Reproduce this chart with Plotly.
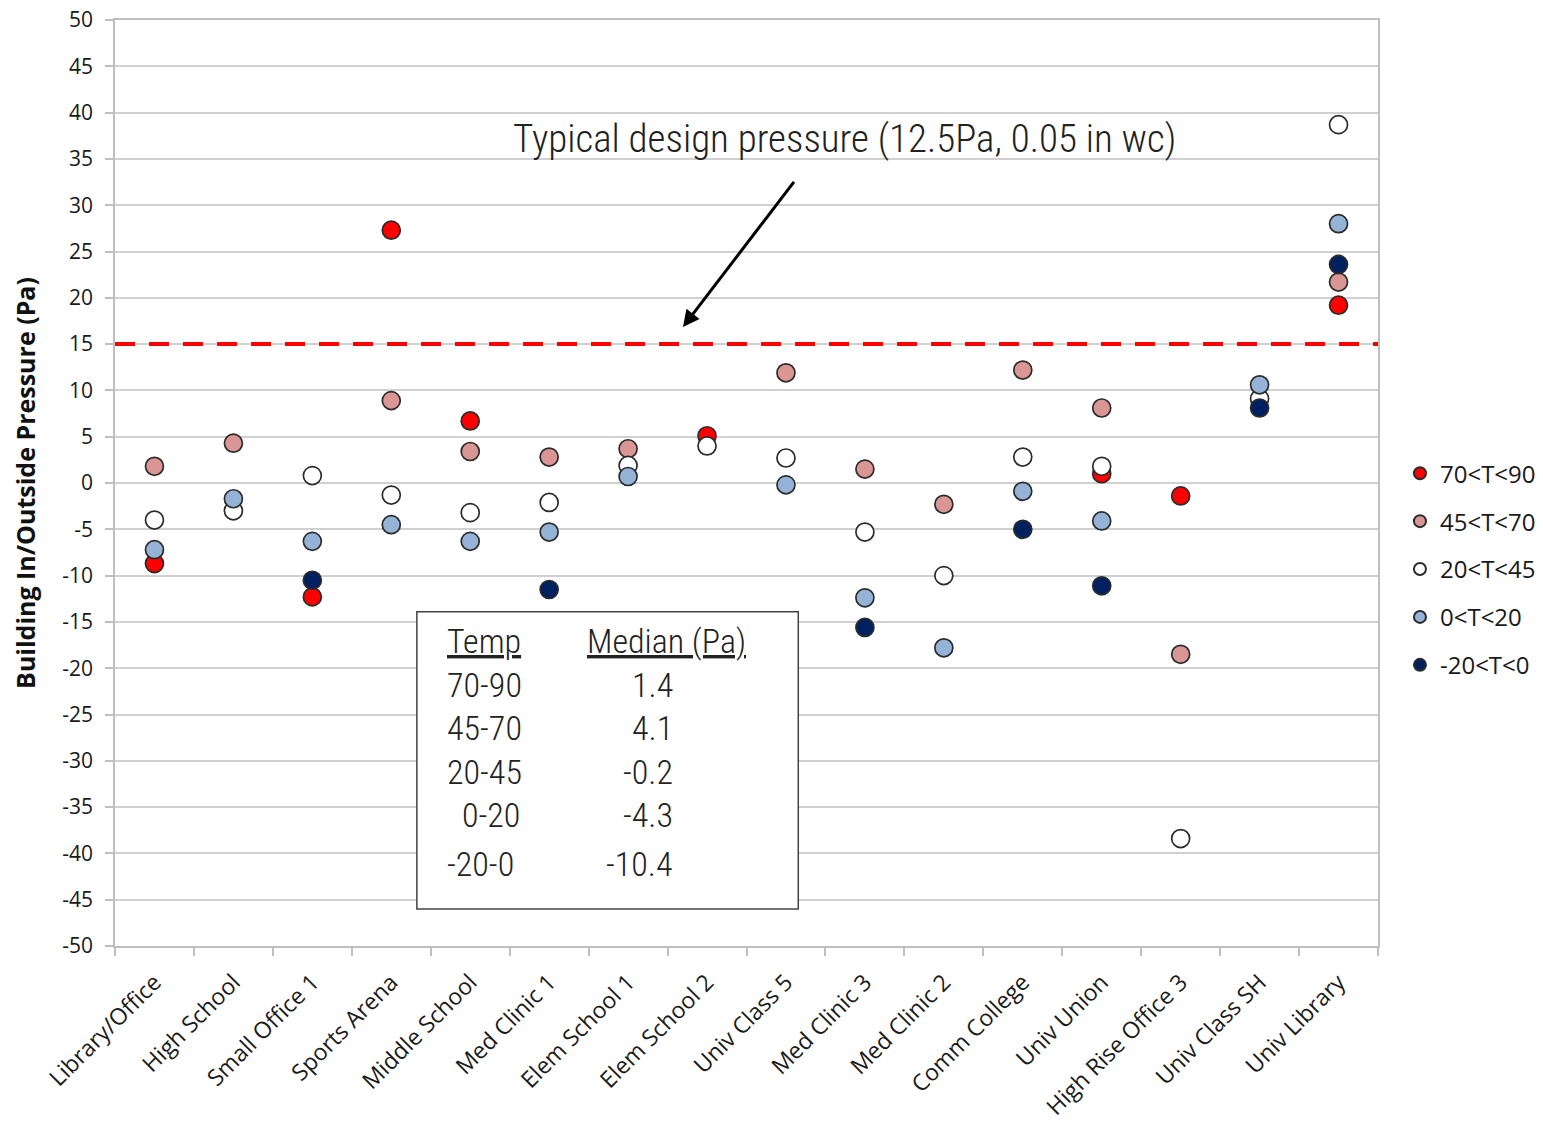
import plotly.graph_objects as go

# Buildings (x categories)
buildings = [
    "Library/Office", "High School", "Small Office 1", "Sports Arena",
    "Middle School", "Med Clinic 1", "Elem School 1", "Elem School 2",
    "Univ Class 5", "Med Clinic 3", "Med Clinic 2", "Comm College",
    "Univ Union", "High Rise Office 3", "Univ Class SH", "Univ Library",
]

# Building in/outside pressure (Pa) by outdoor temperature bin
p_70_90 = [-8.7, None, -12.3, 27.3, 6.7, None, None, 5.1,
           None, None, None, None, 1.0, -1.4, None, 19.2]
p_45_70 = [1.8, 4.3, None, 8.9, 3.4, 2.8, 3.7, None,
           11.9, 1.5, -2.3, 12.2, 8.1, -18.5, None, 21.7]
p_20_45 = [-4.0, -3.0, 0.8, -1.3, -3.2, -2.1, 1.9, 4.0,
           2.7, -5.3, -10.0, 2.8, 1.8, -38.4, 9.1, 38.7]
p_0_20 = [-7.2, -1.7, -6.3, -4.5, -6.3, -5.3, 0.7, None,
          -0.2, -12.4, -17.8, -0.9, -4.1, None, 10.6, 28.0]
p_m20_0 = [None, None, -10.5, None, None, -11.5, None, None,
           None, -15.6, None, -5.0, -11.1, None, 8.1, 23.6]

series_names = ["70<T<90", "45<T<70", "20<T<45", "0<T<20", "-20<T<0"]
series_values = [p_70_90, p_45_70, p_20_45, p_0_20, p_m20_0]
series_colors = ["#FF0000", "#DA9694", "#FFFFFF", "#95B3D7", "#002060"]

design_pressure = 15

# Y tick values and labels (plain hyphen for negatives)
y_ticks = list(range(-50, 55, 5))
y_tick_labels = [str(v) for v in y_ticks]

# Summary table of medians
table_temps = ["70-90", "45-70", "20-45", "0-20", "-20-0"]
table_medians = ["1.4", "4.1", "-0.2", "-4.3", "-10.4"]

TICK_FONT = "Open Sans, Lato, sans-serif"
NARROW_FONT = "Liberation Sans Narrow, Roboto Condensed, Arial Narrow, Roboto, sans-serif"
TEXT_COLOR = "#1a1a1a"

fig = go.Figure()
for name, vals, col in zip(series_names, series_values, series_colors):
    fig.add_trace(go.Scatter(
        x=buildings, y=vals, mode="markers", name=name,
        legendgroup=name,
        marker=dict(size=18, color=col, line=dict(color="#2b2b2b", width=1.7)),
    ))

# Design pressure reference line
fig.add_shape(type="line", xref="paper", yref="y", x0=0, x1=1,
              y0=design_pressure, y1=design_pressure,
              line=dict(color="#FF0000", width=4, dash="20px,14px"), layer="above")

# White backing behind the callout text
fig.add_shape(type="rect", xref="paper", yref="y", x0=0.2945, x1=0.8765,
              y0=32.8, y1=42.5, fillcolor="white", line=dict(width=0), layer="below")
fig.add_annotation(xref="paper", yref="y", x=0.5775, y=37.1, showarrow=False,
                   text="Typical design pressure (12.5Pa, 0.05 in wc)",
                   font=dict(family=NARROW_FONT, size=39, color="#222222", weight=300))
fig.add_annotation(xref="paper", yref="y", x=0.4497, y=16.85, text=" ",
                   showarrow=True, arrowhead=2, arrowsize=1.1, arrowwidth=3,
                   arrowcolor="black", ax=114, ay=-149)

# Median table box
fig.add_shape(type="rect", xref="paper", yref="y", x0=0.239, x1=0.541,
              y0=-46.0, y1=-13.9, fillcolor="white",
              line=dict(color="#444444", width=1.5), layer="above")
TABLE_FONT = dict(family=NARROW_FONT, size=34, color="#222222", weight=300)
fig.add_annotation(xref="paper", yref="y", x=0.261, y=-17.1, xanchor="left",
                   showarrow=False, text="<u>Temp</u>", font=TABLE_FONT)
fig.add_annotation(xref="paper", yref="y", x=0.372, y=-17.1, xanchor="left",
                   showarrow=False, text="<u>Median (Pa)</u>", font=TABLE_FONT)
row_y = [-21.8, -26.5, -31.2, -35.9, -41.1]
temp_x = [0.261, 0.261, 0.261, 0.273, 0.261]
for t, m, yy, tx in zip(table_temps, table_medians, row_y, temp_x):
    fig.add_annotation(xref="paper", yref="y", x=tx, y=yy, xanchor="left",
                       showarrow=False, text=t, font=TABLE_FONT)
    fig.add_annotation(xref="paper", yref="y", x=0.443, y=yy, xanchor="right",
                       showarrow=False, text=m, font=TABLE_FONT)

fig.update_layout(
    width=1543, height=1125,
    margin=dict(l=115, r=165, t=20, b=179),
    plot_bgcolor="white", paper_bgcolor="white",
    font=dict(family=TICK_FONT, color=TEXT_COLOR),
    showlegend=True,
    legend=dict(xref="container", yref="container",
                x=0.9073, y=0.599, xanchor="left", yanchor="top",
                font=dict(family=TICK_FONT, size=24, color=TEXT_COLOR),
                itemsizing="constant", traceorder="grouped",
                tracegroupgap=13.7, bgcolor="rgba(0,0,0,0)"),
    xaxis=dict(
        type="category", range=[-0.5, len(buildings) - 0.5],
        tickangle=-45, tickson="boundaries",
        ticks="outside", ticklen=8, tickcolor="#bfbfbf", tickwidth=1.5,
        showgrid=False, showline=True, linecolor="#bfbfbf", linewidth=1.5,
        mirror=True, automargin=False, ticklabelstandoff=12,
        tickfont=dict(family=TICK_FONT, size=23, color=TEXT_COLOR),
    ),
    yaxis=dict(
        range=[-50, 50], tickvals=y_ticks, ticktext=y_tick_labels,
        ticks="outside", ticklen=8, tickcolor="#bfbfbf", tickwidth=1.5,
        showgrid=True, gridcolor="#d0d0d0", gridwidth=1.5,
        showline=True, linecolor="#bfbfbf", linewidth=1.5, mirror=True,
        zeroline=False, automargin=False, ticklabelstandoff=8,
        tickfont=dict(family=TICK_FONT, size=21, color=TEXT_COLOR),
        title=dict(text="<b>Building In/Outside Pressure (Pa)</b>", standoff=20,
                   font=dict(family=TICK_FONT, size=25, color="#111111")),
    ),
)

fig.write_html("out.html")
